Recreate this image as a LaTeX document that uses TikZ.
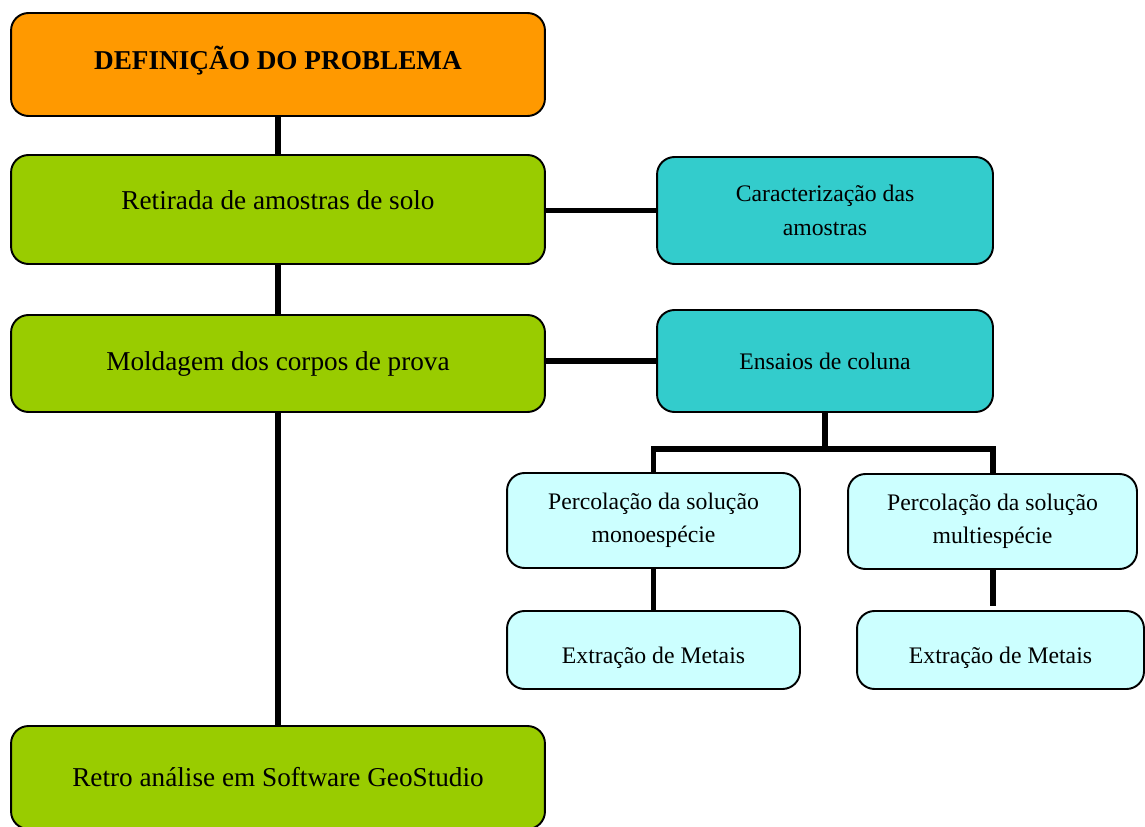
\documentclass[tikz,border=0pt]{standalone}
\usepackage{fontspec}
\setmainfont{Liberation Serif}
\usetikzlibrary{calc}

\definecolor{laranja}{HTML}{FF9900}
\definecolor{verde}{HTML}{99CC00}
\definecolor{turquesa}{HTML}{33CCCC}
\definecolor{ciano}{HTML}{CCFFFF}

\tikzset{
  caixa/.style={draw=black, line width=1.1pt, rounded corners=0.35cm, align=center, inner sep=2pt},
  grande/.style={caixa, minimum width=10.68cm, font=\fontsize{15.5}{18}\selectfont},
  pequena/.style={caixa, font=\fontsize{13.5}{19}\selectfont},
  meio/.style={text height=0.3cm, text depth=0.3cm},
  liga/.style={line width=3.4pt, line cap=butt}
}

\begin{document}
\begin{tikzpicture}[x=0.02cm, y=-0.02cm]
                \useasboundingbox (0,0) rectangle (1145,827);
                % coluna da esquerda
                \node[grande, fill=laranja, minimum height=2.06cm, text height=0.41cm, text depth=0.19cm, font=\fontsize{15.5}{18}\selectfont\bfseries] (prob) at (278,64.5) {DEFINIÇÃO DO PROBLEMA};
                \node[grande, meio, fill=verde, minimum height=2.18cm] (ret) at (278,209.5) {Retirada de amostras de solo};
                \node[grande, fill=verde, minimum height=1.94cm] (mold) at (278,363.5) {Moldagem dos corpos de prova};
                \node[grande, fill=verde, minimum height=2.06cm] (retro) at (278,777.5) {Retro análise em Software GeoStudio};
                % coluna da direita
                \node[pequena, fill=turquesa, minimum width=6.72cm, minimum height=2.14cm] (car) at (825,210.5) {Caracterização das\\amostras};
                \node[pequena, fill=turquesa, minimum width=6.72cm, minimum height=2.04cm] (ens) at (825,361) {Ensaios de coluna};
                \node[pequena, fill=ciano, minimum width=5.86cm, minimum height=1.90cm] (perc1) at (653.5,520.5) {Percolação da solução\\monoespécie};
                \node[pequena, fill=ciano, minimum width=5.78cm, minimum height=1.90cm] (perc2) at (992.5,521.5) {Percolação da solução\\multiespécie};
                \node[pequena, fill=ciano, minimum width=5.86cm, minimum height=1.56cm, text height=0.6cm, text depth=0.08cm] (ext1) at (653.5,650) {Extração de Metais};
                \node[pequena, fill=ciano, minimum width=5.74cm, minimum height=1.56cm, text height=0.6cm, text depth=0.08cm] (ext2) at (1000.5,650) {Extração de Metais};
                \coordinate (divide) at (825,449);
                % ligacoes
                \draw[liga] (prob.south)--(ret.north);
                \draw[liga] (ret.south)--(mold.north);
                \draw[liga] (mold.south)--(retro.north);
                \draw[liga] (car.west)--(car.west -| ret.east);
                \draw[liga] (ens.west)--(ens.west -| mold.east);
                \draw[liga] (ens.south)--(divide);
                \draw[liga] (perc1.north) |- (divide) -| (perc2.north);
                \draw[liga] (perc1.south)--(ext1.north);
                \draw[liga, shorten >=0.08cm] (perc2.south)--(perc2.south |- ext2.north);
            \end{tikzpicture}
\end{document}
